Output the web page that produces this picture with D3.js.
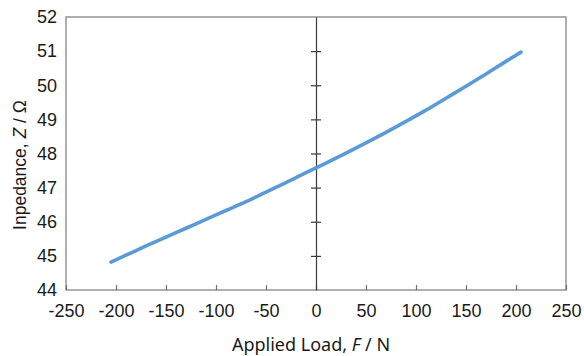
<!DOCTYPE html>
<html>
<head>
<meta charset="utf-8">
<script src="https://cdn.jsdelivr.net/npm/d3@7"></script>
<style>
  body { margin: 0; background: #fff; }
  svg { display: block; }
</style>
</head>
<body>
<svg id="root" width="584" height="356"></svg>
<script>

const root = d3.select('#root');

// values
const loadValues = [-205, -190, -170, -150, -130, -110, -90, -70, -50, -30, -10, 0, 10, 30, 50, 70, 90, 110, 130, 150, 170, 190, 205];
const impedanceValues = [44.82, 45.02, 45.29, 45.55, 45.81, 46.07, 46.33, 46.59, 46.87, 47.15, 47.44, 47.58, 47.72, 48.01, 48.31, 48.62, 48.94, 49.27, 49.62, 49.97, 50.33, 50.70, 50.97];
const xTicks = [-250, -200, -150, -100, -50, 0, 50, 100, 150, 200, 250];
const yTicks = [44, 45, 46, 47, 48, 49, 50, 51, 52];

const data = loadValues.map((f, i) => ({ f: f, z: impedanceValues[i] }));

const plotLeft = 66, plotRight = 566, plotTop = 17, plotBottom = 290;

const xScale = d3.scaleLinear().domain([-250, 250]).range([plotLeft, plotRight]);
const yScale = d3.scaleLinear().domain([44, 52]).range([plotBottom, plotTop]);

// frame
root.append('rect')
    .attr('x', plotLeft)
    .attr('y', plotTop)
    .attr('width', plotRight - plotLeft)
    .attr('height', plotBottom - plotTop)
    .attr('fill', 'none')
    .attr('stroke', '#7a7a7a')
    .attr('stroke-width', 1.2);

// bottom axis: ticks pointing inward, labels below (plain hyphen for minus)
const xAxis = root.append('g')
    .attr('transform', `translate(0,${plotBottom})`)
    .call(d3.axisBottom(xScale).tickValues(xTicks).tickSize(-5).tickPadding(14.5).tickSizeOuter(0)
        .tickFormat(d => String(d)));
xAxis.select('.domain').remove();
xAxis.selectAll('.tick line').attr('stroke', '#6e6e6e').attr('stroke-width', 1.2);
xAxis.selectAll('.tick text')
    .attr('font-family', 'Liberation Sans, Arial, sans-serif')
    .attr('font-size', 18)
    .attr('fill', '#1a1a1a');

// value axis crossing at F = 0
const yAxis = root.append('g')
    .attr('transform', `translate(${xScale(0)},0)`)
    .call(d3.axisLeft(yScale).tickValues(yTicks).tickSize(5).tickFormat('').tickSizeOuter(0));
yAxis.select('.domain').attr('stroke', '#3a3a3a').attr('stroke-width', 1.2);
yAxis.selectAll('.tick line')
    .attr('x1', -5).attr('x2', 5)
    .attr('stroke', '#3a3a3a').attr('stroke-width', 1.2);
yAxis.selectAll('.tick').filter(d => d === 44 || d === 52).select('line').remove();

// y tick labels on the left side of the frame
root.append('g')
    .selectAll('text')
    .data(yTicks)
    .enter()
    .append('text')
    .attr('x', plotLeft - 9)
    .attr('y', d => yScale(d))
    .attr('dy', '0.35em')
    .attr('text-anchor', 'end')
    .attr('font-family', 'Liberation Sans, Arial, sans-serif')
    .attr('font-size', 18)
    .attr('fill', '#1a1a1a')
    .text(d => d);

// series
const line = d3.line()
    .x(d => xScale(d.f))
    .y(d => yScale(d.z))
    .curve(d3.curveMonotoneX);

root.append('path')
    .datum(data)
    .attr('d', line)
    .attr('fill', 'none')
    .attr('stroke', '#5b9bd5')
    .attr('stroke-width', 3.6)
    .attr('stroke-linecap', 'round');

// axis titles
const xTitle = root.append('text')
    .attr('x', 311)
    .attr('y', 351)
    .attr('text-anchor', 'middle')
    .attr('font-family', 'Noto Sans, Open Sans, sans-serif')
    .attr('font-size', 18)
    .attr('fill', '#1a1a1a');
xTitle.append('tspan').text('Applied Load, ');
xTitle.append('tspan').attr('font-style', 'italic').text('F');
xTitle.append('tspan').text(' / N');

const yTitle = root.append('text')
    .attr('transform', 'translate(26,165) rotate(-90)')
    .attr('text-anchor', 'middle')
    .attr('font-family', 'Liberation Sans, Arial, sans-serif')
    .attr('font-size', 17.5)
    .attr('fill', '#1a1a1a');
yTitle.append('tspan').text('Inpedance, ');
yTitle.append('tspan').attr('font-style', 'italic').text('Z');
yTitle.append('tspan').text(' / Ω');

</script>
</body>
</html>
